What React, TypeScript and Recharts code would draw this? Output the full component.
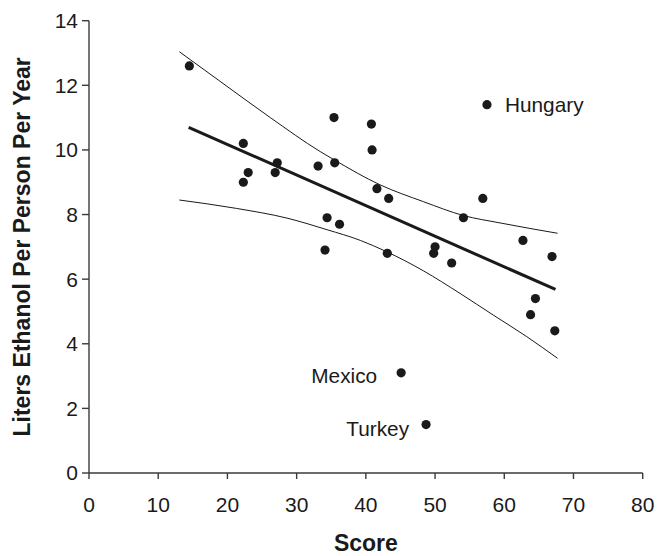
import { ComposedChart, Scatter, Line, XAxis, YAxis, Label } from 'recharts';

// scatter values (score vs liters ethanol)
const scores = [14.5, 22.3, 23.0, 22.3, 27.2, 26.9, 33.1, 35.4, 35.5, 40.8, 40.9, 41.6, 34.4, 36.2, 34.1, 43.3, 56.9, 54.1, 43.1, 50.0, 49.8, 52.4, 62.7, 66.9, 64.5, 63.8, 67.3];
const liters = [12.6, 10.2, 9.3, 9.0, 9.6, 9.3, 9.5, 11.0, 9.6, 10.8, 10.0, 8.8, 7.9, 7.7, 6.9, 8.5, 8.5, 7.9, 6.8, 7.0, 6.8, 6.5, 7.2, 6.7, 5.4, 4.9, 4.4];

const countries = ['Hungary', 'Mexico', 'Turkey'];
const countryScores = [57.5, 45.1, 48.7];
const countryLiters = [11.4, 3.1, 1.5];

// regression line and its confidence band
const fitScores = [14.4, 67.4];
const fitLiters = [10.7, 5.68];
const upperScores = [13.05, 18.9, 26.2, 33.4, 35.45, 42.05, 48.3, 54.1, 59.4, 67.7];
const upperLiters = [13.04, 12.13, 11.0, 9.95, 9.69, 8.92, 8.4, 7.97, 7.74, 7.42];
const lowerScores = [13.05, 21.3, 28.6, 34.4, 39.2, 43.0, 48.3, 53.6, 58.4, 63.25, 67.7];
const lowerLiters = [8.45, 8.19, 7.89, 7.53, 7.2, 6.85, 6.26, 5.56, 4.89, 4.22, 3.55];

const xTicks = [0, 10, 20, 30, 40, 50, 60, 70, 80];
const yTicks = [0, 2, 4, 6, 8, 10, 12, 14];

const toPoints = (xs: number[], ys: number[]) => xs.map((x, i) => ({ x, y: ys[i] }));

const points = toPoints(scores, liters);
const named = countries.map((name, i) => ({ x: countryScores[i], y: countryLiters[i], name }));
const fit = toPoints(fitScores, fitLiters);
const upper = toPoints(upperScores, upperLiters);
const lower = toPoints(lowerScores, lowerLiters);

const FONT = '"Liberation Sans", Arial, sans-serif';
const INK = '#1a1a1a';
const AXIS = '#3a3a3a';

// where each country name sits relative to its dot
const labelPlacement: Record<string, { dx: number; dy: number; anchor: 'start' | 'end' }> = {
  Hungary: { dx: 18, dy: 0, anchor: 'start' },
  Mexico: { dx: -24, dy: 3, anchor: 'end' },
  Turkey: { dx: -17, dy: 4, anchor: 'end' },
};

const Dot = (props: any) => <circle cx={props.cx} cy={props.cy} r={4.6} fill={INK} />;

const NamedDot = (props: any) => {
  const { cx, cy, payload } = props;
  const p = labelPlacement[payload.name];
  return (
    <g>
      <circle cx={cx} cy={cy} r={4.6} fill={INK} />
      <text x={cx + p.dx} y={cy + p.dy} dy="0.35em" textAnchor={p.anchor} fontSize={20.8} fontFamily={FONT} fill={INK}>
        {payload.name}
      </text>
    </g>
  );
};

const xTitle = (props: any) => {
  const vb = props.viewBox;
  return (
    <text x={vb.x + vb.width / 2} y={vb.y + 70} dy="0.35em" textAnchor="middle" fontSize={23} fontWeight="bold" fontFamily={FONT} fill={INK}>
      Score
    </text>
  );
};

const yTitle = (props: any) => {
  const vb = props.viewBox;
  const x = vb.x - 7;
  const y = vb.y + vb.height / 2;
  return (
    <text x={x} y={y} dy="0.35em" transform={`rotate(-90, ${x}, ${y})`} textAnchor="middle" fontSize={23} fontWeight="bold" fontFamily={FONT} fill={INK}>
      Liters Ethanol Per Person Per Year
    </text>
  );
};

export default function App() {
  return (
    <div style={{ position: 'absolute', left: 0, top: 0, width: 658, height: 556, background: '#fff' }}>
      <ComposedChart width={658} height={556} margin={{ top: 20.7, right: 15.3, bottom: 0, left: 29 }}>
        <XAxis
          dataKey="x"
          type="number"
          domain={[0, 80]}
          ticks={xTicks}
          interval={0}
          height={83}
          tickSize={6}
          tickMargin={18}
          axisLine={{ stroke: AXIS, strokeWidth: 1.4 }}
          tickLine={{ stroke: AXIS, strokeWidth: 1.4 }}
          tick={{ fill: INK, fontSize: 21, fontFamily: FONT }}
        >
          <Label content={xTitle} />
        </XAxis>
        <YAxis
          dataKey="y"
          type="number"
          domain={[0, 14]}
          ticks={yTicks}
          interval={0}
          width={60}
          tickSize={7}
          tickMargin={4}
          axisLine={{ stroke: AXIS, strokeWidth: 1.4 }}
          tickLine={{ stroke: AXIS, strokeWidth: 1.4 }}
          tick={{ fill: INK, fontSize: 21, fontFamily: FONT }}
        >
          <Label content={yTitle} />
        </YAxis>
        <Line data={upper} dataKey="y" type="monotone" stroke={INK} strokeWidth={1} dot={false} isAnimationActive={false} />
        <Line data={lower} dataKey="y" type="monotone" stroke={INK} strokeWidth={1} dot={false} isAnimationActive={false} />
        <Line data={fit} dataKey="y" type="linear" stroke={INK} strokeWidth={3} dot={false} isAnimationActive={false} />
        <Scatter data={points} dataKey="y" shape={Dot} isAnimationActive={false} />
        <Scatter data={named} dataKey="y" shape={NamedDot} isAnimationActive={false} />
      </ComposedChart>
    </div>
  );
}
